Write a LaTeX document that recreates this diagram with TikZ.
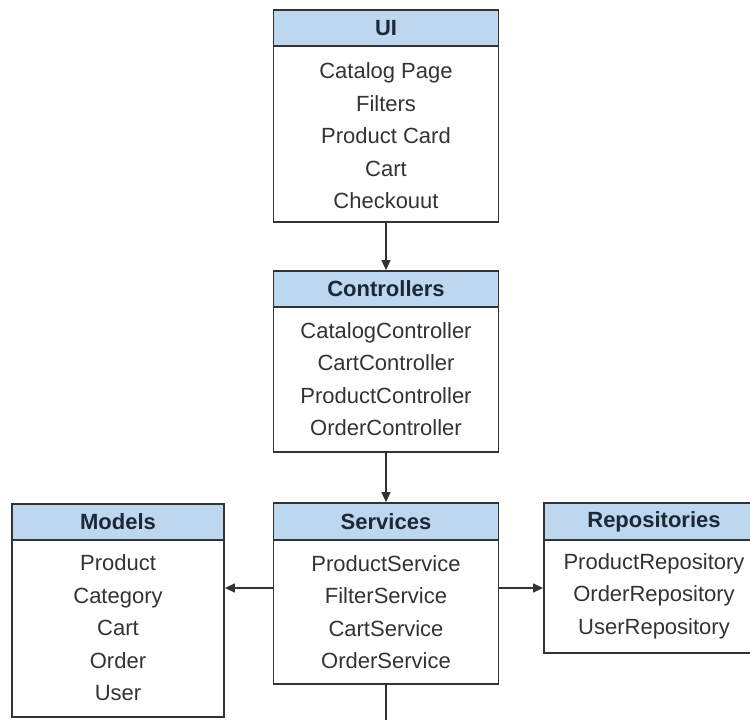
\documentclass[tikz,border=0pt]{standalone}
\usepackage{fontspec}
\setmainfont{Liberation Sans}
\usetikzlibrary{arrows.meta}
\definecolor{hdr}{HTML}{BDD7EE}
\definecolor{ink}{HTML}{333333}
\definecolor{hdrtxt}{HTML}{1C2836}
\begin{document}
\begin{tikzpicture}[x=1pt,y=-1pt,
  frame/.style={draw=ink, line width=1.8pt, inner sep=0pt, fill=white},
  head/.style={draw=ink, line width=1.8pt, fill=hdr, inner sep=0pt, anchor=north,
    font=\fontsize{22}{26}\selectfont\bfseries, text=hdrtxt},
  items/.style={align=center, font=\fontsize{22}{32.5}\selectfont, text=ink, inner sep=0pt},
  link/.style={draw=ink, line width=1.5pt},
  conn/.style={link, -{Triangle[length=10pt,width=9pt]}}]
\useasboundingbox (0,0) rectangle (750,720);

% UI
\node[frame, minimum width=225pt, minimum height=212pt] (ui) at (386,116) {};
\node[head, minimum width=225pt, minimum height=36pt] (uih) at (ui.north) {UI};
\node[items] (uib) at (386,136) {Catalog Page\\Filters\\Product Card\\Cart\\Checkouut};

% Controllers
\node[frame, minimum width=225pt, minimum height=181pt] (ctrl) at (386,361.5) {};
\node[head, minimum width=225pt, minimum height=36pt] (ctrlh) at (ctrl.north) {Controllers};
\node[items] (ctrlb) at (386,379) {CatalogController\\CartController\\ProductController\\OrderController};

% Services
\node[frame, minimum width=225pt, minimum height=181pt] (serv) at (386,593.5) {};
\node[head, minimum width=225pt, minimum height=37pt] (servh) at (serv.north) {Services};
\node[items] (servb) at (386,612) {ProductService\\FilterService\\CartService\\OrderService};

% Models
\node[frame, minimum width=212pt, minimum height=213pt] (models) at (118,610.5) {};
\node[head, minimum width=212pt, minimum height=36pt] (modelsh) at (models.north) {Models};
\node[items] (modelsb) at (118,628) {Product\\Category\\Cart\\Order\\User};

% Repositories
\node[frame, minimum width=220pt, minimum height=150pt] (repo) at (654,578) {};
\node[head, minimum width=220pt, minimum height=37pt] (repoh) at (repo.north) {Repositories};
\node[items] (repob) at (654,596) {ProductRepository\\OrderRepository\\UserRepository};

% connectors
\coordinate (mid) at (0,588);
\coordinate (exit) at (386,730);
\draw[conn] (ui.south) -- (ctrl.north);
\draw[conn] (ctrl.south) -- (serv.north);
\draw[conn] (serv.west |- mid) -- (models.east |- mid);
\draw[conn] (serv.east |- mid) -- (repo.west |- mid);
\draw[link] (serv.south) -- (exit);
\end{tikzpicture}
\end{document}
